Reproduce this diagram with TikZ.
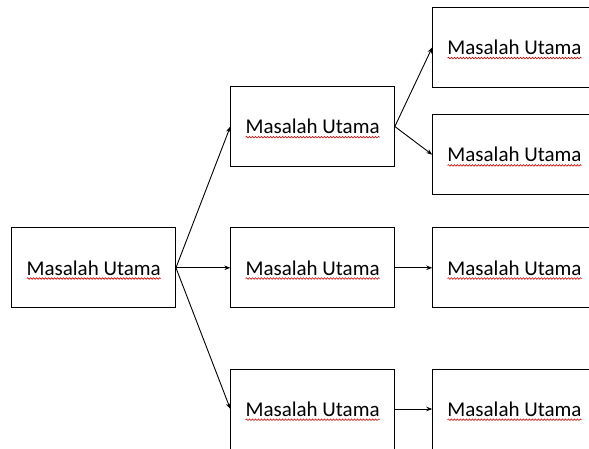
\documentclass[tikz,border=0pt]{standalone}
\usepackage{fontspec}
\setmainfont{Carlito}
\usetikzlibrary{arrows.meta,decorations.pathmorphing}

\begin{document}
\begin{tikzpicture}[x=1pt,y=1pt]
\tikzset{box/.style={draw,line width=1pt,minimum width=163.5pt,minimum height=80pt,inner sep=0pt,font=\fontsize{21}{25}\selectfont},
link/.style={line width=0.9pt,-{Stealth[length=6pt,width=4.5pt]}},
squiggle/.style={red!85!black,line width=0.6pt,decorate,decoration={snake,amplitude=0.8pt,segment length=3pt}}}
\useasboundingbox (0,0) rectangle (589,448);
\clip (0,0) rectangle (589,448);

\node[box] (root) at (93.7,180.2) {Masalah Utama};

\node[box] (mid1) at (312.6,321.5) {Masalah Utama};
\node[box] (mid2) at (312.6,180.2) {Masalah Utama};
\node[box] (mid3) at (312.6,39) {Masalah Utama};

\node[box] (leaf1) at (514.5,400.7) {Masalah Utama};
\node[box] (leaf2) at (514.5,293.3) {Masalah Utama};
\node[box] (leaf3) at (514.5,180.2) {Masalah Utama};
\node[box] (leaf4) at (514.5,39) {Masalah Utama};

\draw[link] (root.east) -- (mid1.west);
\draw[link] (root.east) -- (mid2.west);
\draw[link] (root.east) -- (mid3.west);
\draw[link] (mid1.east) -- (leaf1.west);
\draw[link] (mid1.east) -- (leaf2.west);
\draw[link] (mid2.east) -- (leaf3.west);
\draw[link] (mid3.east) -- (leaf4.west);

\foreach \n in {root,mid1,mid2,mid3,leaf1,leaf2,leaf3,leaf4}
    \draw[squiggle] ([xshift=-67pt,yshift=-3.5pt]\n.base) -- ([xshift=67pt,yshift=-3.5pt]\n.base);

\end{tikzpicture}
\end{document}
